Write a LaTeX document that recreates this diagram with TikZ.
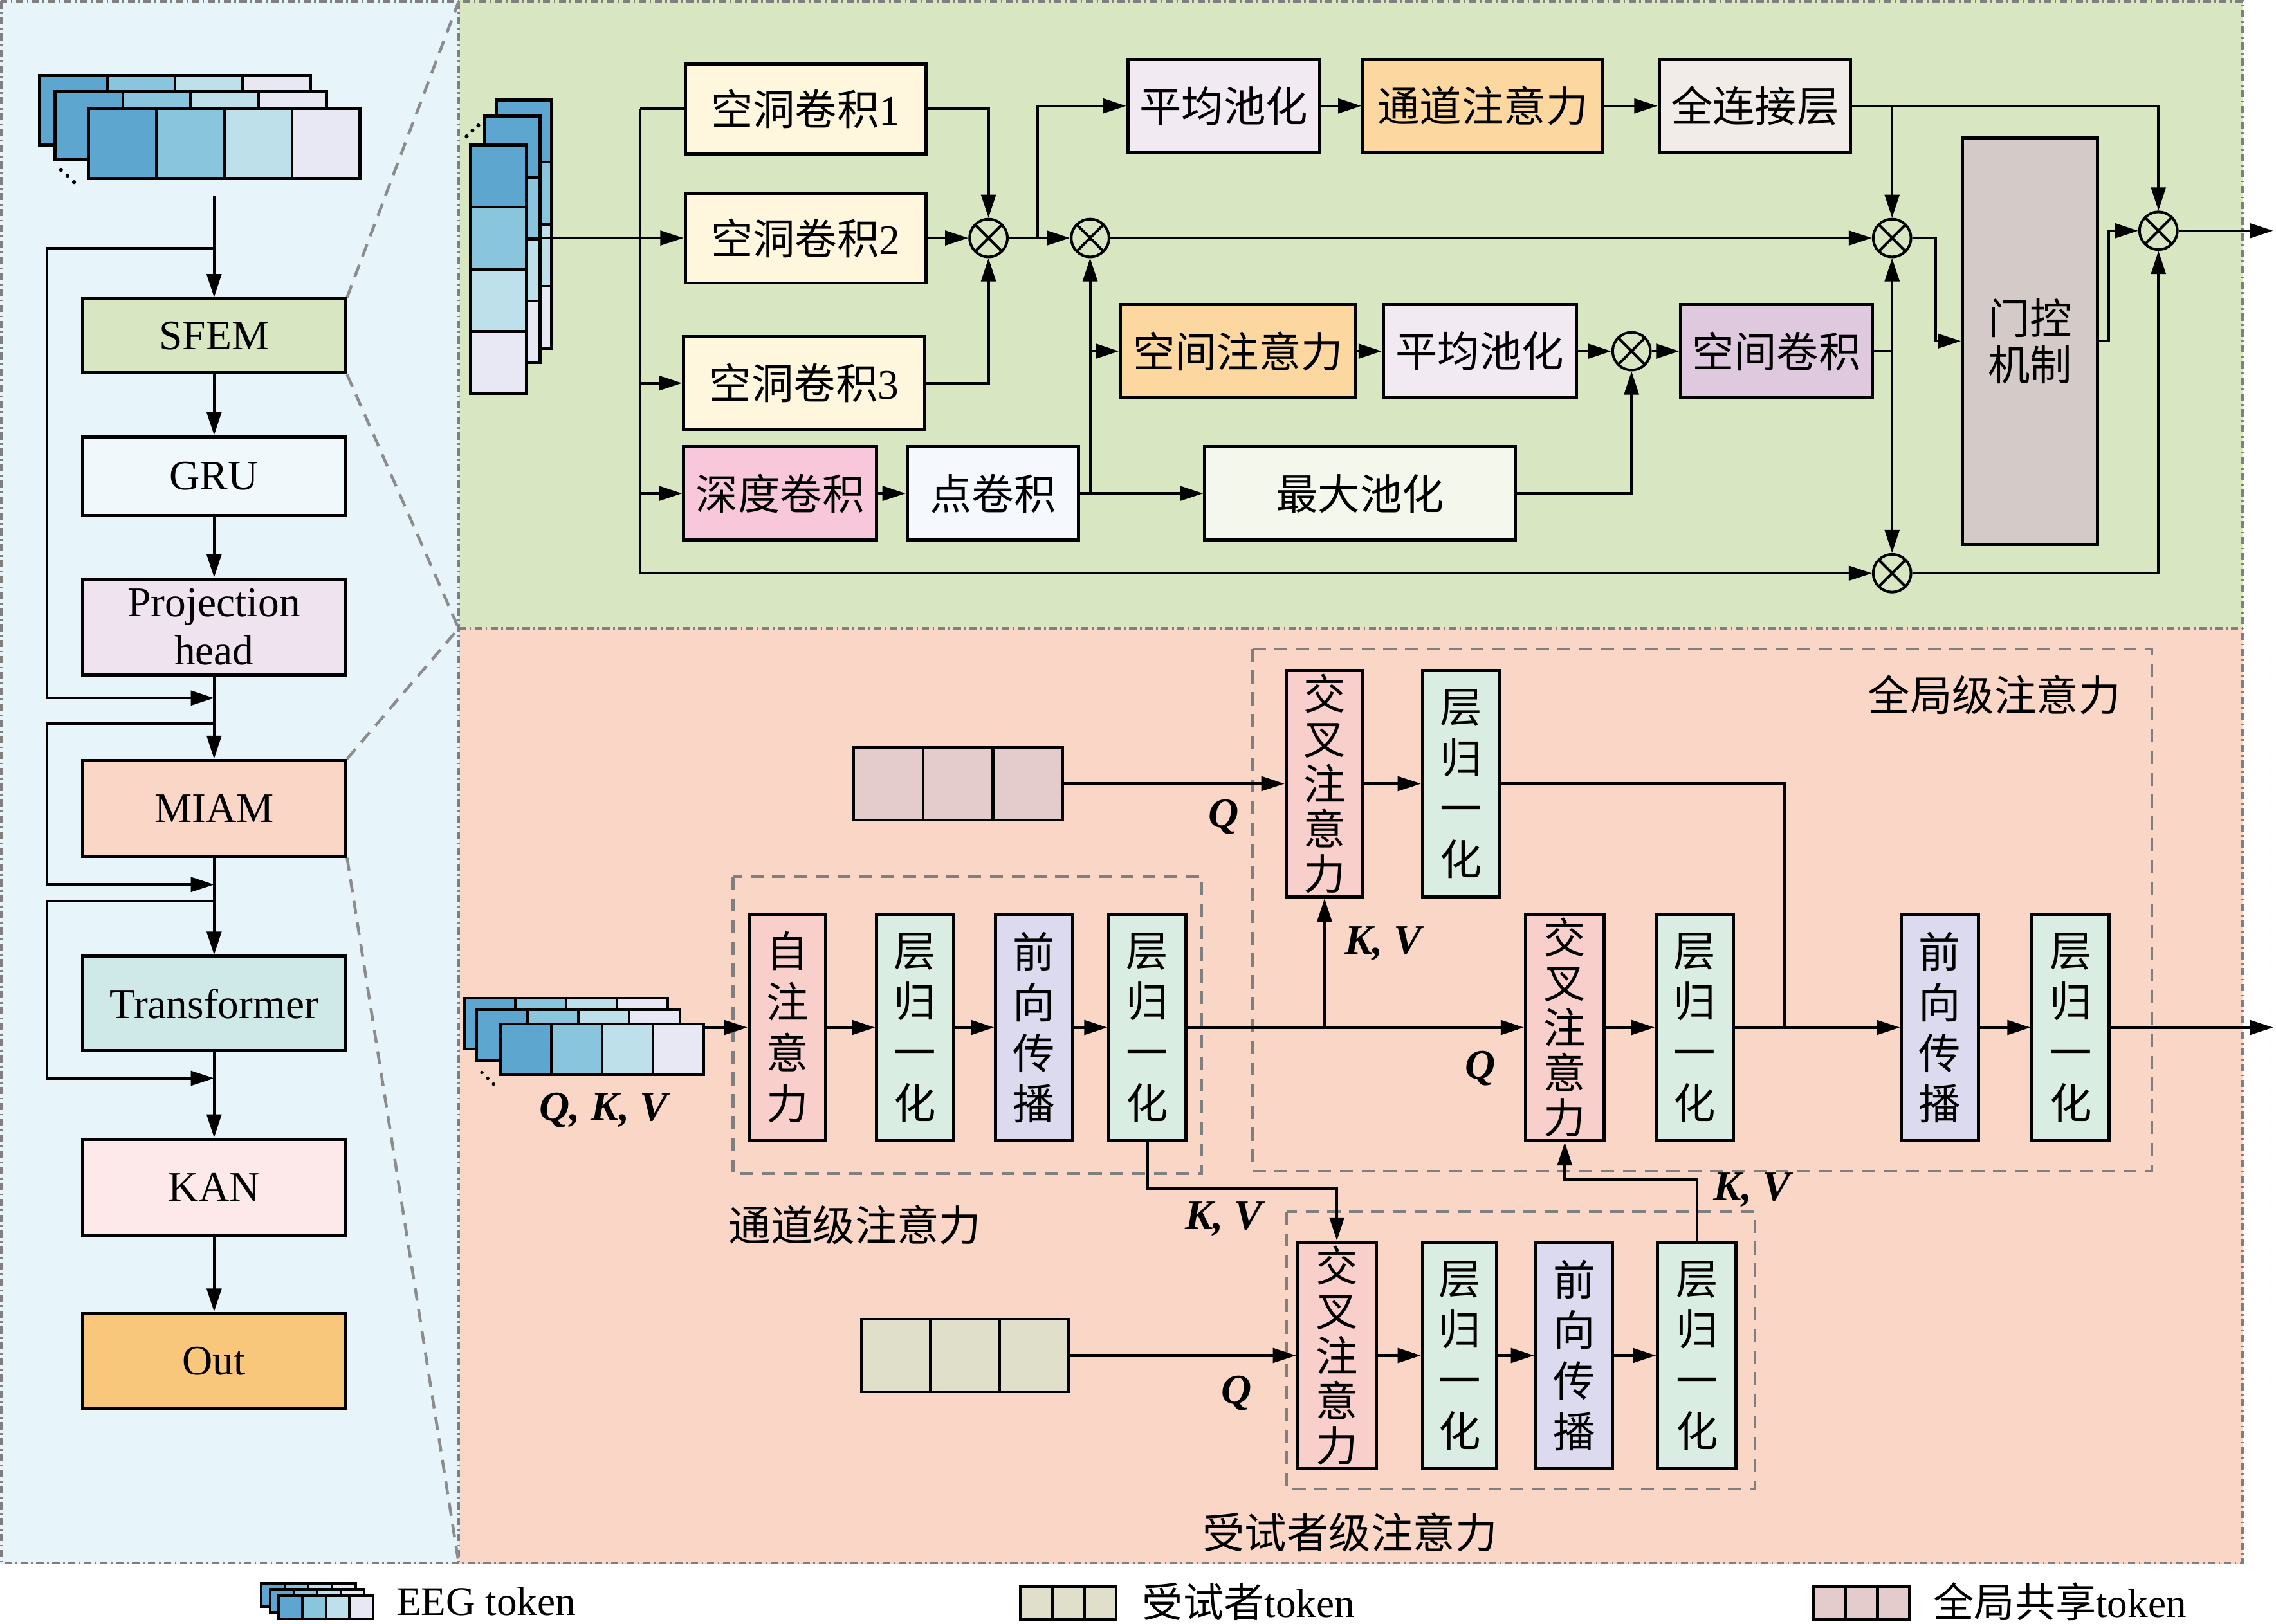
\documentclass[tikz,border=0pt]{standalone}
\usepackage{fontspec}
\setmainfont{Liberation Serif}
\newfontfamily\cjk{Noto Sans CJK SC}
\usetikzlibrary{arrows.meta, math}
\definecolor{bgL}{HTML}{E7F4F9}
\definecolor{bgG}{HTML}{D8E6C1}
\definecolor{bgS}{HTML}{F9D6C6}
\definecolor{frameG}{HTML}{7F7F7F}
\definecolor{tokA}{HTML}{5CA6CF}
\definecolor{tokB}{HTML}{8AC5DE}
\definecolor{tokC}{HTML}{BEE0EB}
\definecolor{tokD}{HTML}{E7E8F3}
\definecolor{cGru}{HTML}{F0F8FB}
\definecolor{cProj}{HTML}{EEE3EF}
\definecolor{cTrans}{HTML}{CFE8E8}
\definecolor{cKan}{HTML}{FDE9EA}
\definecolor{cOut}{HTML}{F9C77C}
\definecolor{cDil}{HTML}{FEF6DD}
\definecolor{cDw}{HTML}{F9C7DA}
\definecolor{cPw}{HTML}{F5F8FC}
\definecolor{cAvg}{HTML}{F2EAF2}
\definecolor{cAtt}{HTML}{FCD8A0}
\definecolor{cFc}{HTML}{F1ECE8}
\definecolor{cSc}{HTML}{DFC9DF}
\definecolor{cMax}{HTML}{F4F8EC}
\definecolor{cGate}{HTML}{D4CBC8}
\definecolor{cCross}{HTML}{F9CFCB}
\definecolor{cNorm}{HTML}{D9EDE3}
\definecolor{cFf}{HTML}{DCDAEE}
\definecolor{cGtok}{HTML}{E4CCCC}
\definecolor{cStok}{HTML}{E0DFCA}
\newcommand{\fsz}{\fontsize{14.5}{16.5}\selectfont}
\newcommand{\vsz}{\fontsize{14.5}{17.5}\selectfont}
\newcommand{\vszc}{\fontsize{14.5}{15.5}\selectfont}
% token stacks: [line width] x, y (top left), cell width, cell height
\newcommand{\tokrow}[5][1pt]{%
  \foreach \c [count=\i from 0] in {tokA,tokB,tokC,tokD}
    \draw[line width=#1, fill=\c] ({#2+\i*#4},#3) rectangle ++(#4,#5);}
\newcommand{\tokcol}[5][1pt]{%
  \foreach \c [count=\i from 0] in {tokA,tokB,tokC,tokD}
    \draw[line width=#1, fill=\c] (#2,{#3+\i*#5}) rectangle ++(#4,#5);}

\begin{document}
\begin{tikzpicture}[x=0.5pt, y=-0.5pt,
  span/.style args={#1/#2/#3/#4}{at={({(#1+#3)/2},{(#2+#4)/2})},
    minimum width={(#3-#1)*0.5pt}, minimum height={(#4-#2)*0.5pt}},
  box/.style={draw, line width=1.1pt, inner sep=0pt, font=\cjk\fsz},
  lbox/.style={box, font=\fsz},
  vbox/.style={box, align=center, font=\cjk\vsz},
  cbox/.style={box, align=center, font=\cjk\vszc},
  arr/.style={-{Triangle[length=8pt,width=5pt]}, line width=0.9pt},
  ln/.style={line width=0.9pt},
  mul/.style={circle, draw, line width=0.9pt, minimum size=13pt, inner sep=0pt,
    path picture={\draw[line width=0.9pt] (path picture bounding box.south west) -- (path picture bounding box.north east)
      (path picture bounding box.north west) -- (path picture bounding box.south east);}},
  panel/.style={draw=frameG, line width=1pt, dash pattern=on 2.5pt off 1.2pt on 0.6pt off 1.2pt},
  zoomln/.style={draw=frameG!90, line width=1pt, dash pattern=on 4.5pt off 3pt},
  grp/.style={draw=frameG, line width=0.9pt, dash pattern=on 4.5pt off 3pt},
  lab/.style={font=\fsz\bfseries\itshape},
  captxt/.style={font=\cjk\fsz}]

\useasboundingbox (0,0) rectangle (1568,1119);

\tikzmath{
\xl = 147.5; % left column axis
\xr = 32.5;  % skip lines
\xb = 441;   % input bus
\ym = 164;   % main row, feature module
\yt = 708;   % main row, attention module
\yb = 934;   % subject row
}

%panels:
\fill[bgL] (0,0) rectangle (316,1078);
\fill[bgG] (316,0) rectangle (1545,433);
\fill[bgS] (316,433) rectangle (1545,1078);
\draw[panel] (1,1) rectangle (1545,1077);
\draw[panel] (316,1) -- (316,1077);
\draw[panel] (316,433) -- (1545,433);

%left column:
\tokrow{27}{52}{46.75}{48}
\tokrow{38}{63}{46.75}{47}
\tokrow{61}{75}{46.75}{48}
\foreach \p in {(42,117),(46.5,121),(51,125.5)} \fill \p circle[radius=1.4];

\node[lbox, fill=bgG, span=57/206/238/257] (sfem) {SFEM};
\node[lbox, fill=cGru, span=57/301/238/355] (gru) {GRU};
\node[lbox, fill=cProj, span=57/399/238/465, align=center] (proj) {Projection\\head};
\node[lbox, fill=bgS, span=57/524/238/590] (miam) {MIAM};
\node[lbox, fill=cTrans, span=57/659/238/724] (trans) {Transformer};
\node[lbox, fill=cKan, span=57/785/238/851] (kan) {KAN};
\node[lbox, fill=cOut, span=57/905/238/971] (out) {Out};

\coordinate (ein) at (\xl,135);
\draw[arr] (ein) -- (sfem);
\draw[arr] (sfem) -- (gru);
\draw[arr] (gru) -- (proj);
\draw[arr] (proj) -- (miam);
\draw[arr] (miam) -- (trans);
\draw[arr] (trans) -- (kan);
\draw[arr] (kan) -- (out);

%skip connections
\coordinate (s1) at (\xl,171);   \coordinate (e1) at (\xl,481);
\coordinate (s2) at (\xl,498.5); \coordinate (e2) at (\xl,609.5);
\coordinate (s3) at (\xl,621);   \coordinate (e3) at (\xl,743);
\draw[arr] (s1) -- (\xr,171) |- (e1);
\draw[arr] (s2) -- (\xr,498.5) |- (e2);
\draw[arr] (s3) -- (\xr,621) |- (e3);

%zoom lines
\draw[zoomln] (sfem.north east) -- (316,1);
\draw[zoomln] (sfem.south east) -- (316,433);
\draw[zoomln] (miam.north east) -- (316,433);
\draw[zoomln] (miam.south east) -- (316,1077);

%feature extraction module:
\tokcol{342}{69}{38}{42.75}
\tokcol{334}{80}{38}{42.5}
\tokcol{324}{100}{38.5}{42.75}
\foreach \p in {(321.5,94),(325.5,90),(329.5,86.5)} \fill \p circle[radius=1.4];

\node[box, fill=cDil, span=472/44/638/106] (dc1) {空洞卷积{\rmfamily 1}};
\node[box, fill=cDil, span=472/133/638/195] (dc2) {空洞卷积{\rmfamily 2}};
\node[box, fill=cDil, span=471/232/637/296] (dc3) {空洞卷积{\rmfamily 3}};
\node[box, fill=cDw, span=471/308/604/372] (dw) {深度卷积};
\node[box, fill=cPw, span=625/308/743/372] (pw) {点卷积};
\node[box, fill=cAvg, span=777/41/909/105] (avg1) {平均池化};
\node[box, fill=cAtt, span=939/41/1104/105] (ca) {通道注意力};
\node[box, fill=cFc, span=1143/41/1275/105] (fc) {全连接层};
\node[box, fill=cAtt, span=772/210/934/274] (sa) {空间注意力};
\node[box, fill=cAvg, span=953/210/1086/274] (avg2) {平均池化};
\node[box, fill=cSc, span=1158/210/1290/274] (sc) {空间卷积};
\node[box, fill=cMax, span=830/308/1044/372] (mp) {最大池化};
\node[box, fill=cGate, span=1352/95/1445/375, align=center,
  font=\cjk\fontsize{14.5}{16}\selectfont] (gate) {门控\\机制};

\node[mul] (mul1) at (681,\ym) {};
\node[mul] (mul2) at (751,\ym) {};
\node[mul] (mul3) at (1303.5,\ym) {};
\node[mul] (mul4) at (1303.5,395) {};
\node[mul] (mul5) at (1124,242) {};
\node[mul] (mulF) at (1487,159) {};

\coordinate (vin) at (362,\ym);
\coordinate (busT) at (\xb,75);
\coordinate (busB) at (\xb,395);
\draw[arr] (vin) -- (dc2);
\draw[ln] (dc1.west) -- (busT);
\draw[arr] (busT) -- (busB) -- (mul4);
\draw[arr] (busT |- dc3.west) -- (dc3.west);
\draw[arr] (busT |- dw.west) -- (dw.west);

\draw[arr] (dc1.east) -| (mul1.north);
\draw[arr] (dc2) -- (mul1);
\draw[arr] (dc3.east) -| (mul1.south);
\draw[arr] (mul1) -- (mul2);
\draw[arr] (715,\ym) |- (avg1.west);
\draw[arr] (avg1) -- (ca);
\draw[arr] (ca) -- (fc);
\draw[arr] (mul2) -- (mul3);

\draw[arr] (dw) -- (pw);
\draw[arr] (pw) -- (mp);
\coordinate (br2) at (751,340);
\draw[arr] (br2) -- (mul2.south);
\draw[arr] (br2 |- sa.west) -- (sa.west);
\draw[arr] (sa) -- (avg2);
\draw[arr] (avg2) -- (mul5);
\draw[arr] (mul5) -- (sc);
\draw[arr] (mp.east) -| (mul5.south);

\coordinate (br3) at (1303.5,242);
\draw[ln] (sc.east) -- (br3);
\draw[arr] (br3) -- (mul3.south);
\draw[arr] (br3) -- (mul4.north);
\draw[arr] (fc.east) -| (mulF.north);
\draw[arr] (fc.east -| mul3.north) -- (mul3.north);
\draw[arr] (mul3.east) -- ++(16,0) |- (gate.west);
\draw[arr] (gate.east) -- ++(6.5,0) |- (mulF.west);
\draw[arr] (mul4.east) -| (mulF.south);
\coordinate (outG) at (1566,159);
\draw[arr] (mulF) -- (outG);

%attention module:
\draw[grp] (505,604) rectangle (828,809);
\draw[grp] (863,447) rectangle (1482.5,807);
\draw[grp] (886.5,835) rectangle (1209,1026);

\tokrow[0.9pt]{320}{688}{35}{35}
\tokrow[0.9pt]{328.5}{696}{35}{35}
\tokrow[0.9pt]{345}{705.5}{35}{35}
\foreach \p in {(332,739),(336,743),(340,747)} \fill \p circle[radius=1.2];
\foreach \i in {0,1,2} \draw[line width=1pt, fill=cGtok] ({588+48*\i},515) rectangle ++(48,50);
\foreach \i in {0,1,2} \draw[line width=1pt, fill=cStok] ({593.5+47.5*\i},909) rectangle ++(47.5,50);

\node[vbox, fill=cCross, span=516/630/569/786] (selfa) {自\\注\\意\\力};
\node[vbox, fill=cNorm, span=604/630/657/786] (ln2) {层\\归\\一\\化};
\node[vbox, fill=cFf, span=686/630/739/786] (ff1) {前\\向\\传\\播};
\node[vbox, fill=cNorm, span=764/630/817/786] (ln3) {层\\归\\一\\化};
\node[cbox, fill=cCross, span=886/462/939/618] (ca1) {交\\叉\\注\\意\\力};
\node[vbox, fill=cNorm, span=980/462/1033/618] (ln1) {层\\归\\一\\化};
\node[cbox, fill=cCross, span=1051/630/1105/786] (ca2) {交\\叉\\注\\意\\力};
\node[vbox, fill=cNorm, span=1141/630/1194/786] (ln4) {层\\归\\一\\化};
\node[vbox, fill=cFf, span=1310/630/1363/786] (ff2) {前\\向\\传\\播};
\node[vbox, fill=cNorm, span=1400/630/1453/786] (ln5) {层\\归\\一\\化};
\node[cbox, fill=cCross, span=894/856/948/1012] (ca3) {交\\叉\\注\\意\\力};
\node[vbox, fill=cNorm, span=980/856/1031/1012] (ln6) {层\\归\\一\\化};
\node[vbox, fill=cFf, span=1058/856/1111/1012] (ff3) {前\\向\\传\\播};
\node[vbox, fill=cNorm, span=1142/856/1196/1012] (ln7) {层\\归\\一\\化};

\coordinate (tin) at (485,\yt);
\coordinate (gq) at (732,540);
\coordinate (sq) at (736,\yb);
\coordinate (outS) at (1566,\yt);
\draw[arr] (tin) -- (selfa.west);
\draw[arr] (selfa) -- (ln2);
\draw[arr] (ln2) -- (ff1);
\draw[arr] (ff1) -- (ln3);
\draw[arr] (ln3.east) -- (ca2.west);
\draw[arr] (ca1.south |- ln3.east) -- (ca1.south);
\draw[arr] (gq) -- (ca1.west);
\draw[arr] (ca1) -- (ln1);
\draw[ln] (ln1.east) -| (1229.5,\yt);
\draw[arr] (ca2) -- (ln4);
\draw[arr] (ln4) -- (ff2);
\draw[arr] (ff2) -- (ln5);
\draw[arr] (ln5.east) -- (outS);
\draw[arr] (ln3.south) -- ++(0,32) -| (ca3.north);
\draw[arr] (sq) -- (ca3.west);
\draw[arr] (ca3) -- (ln6);
\draw[arr] (ln6) -- (ff3);
\draw[arr] (ff3) -- (ln7);
\draw[arr] (ln7.north) -- ++(0,-42) -| (ca2.south);

\node[lab] (q1) at (843,563) {Q};
\node[lab] (q2) at (1020,736) {Q};
\node[lab] (q3) at (852,960) {Q};
\node[lab] (kv1) at (953,650) {K, V};
\node[lab] (kv2) at (843,840) {K, V};
\node[lab] (kv3) at (1207,820) {K, V};
\node[lab] (qkv) at (416,765) {Q, K, V};
\node[captxt] (capC) at (589,844) {通道级注意力};
\node[captxt] (capG) at (1374,479) {全局级注意力};
\node[captxt] (capS) at (930,1056) {受试者级注意力};

%legend
\tokrow[0.8pt]{180}{1091}{16.25}{16}
\tokrow[0.8pt]{186}{1095}{16.25}{16}
\tokrow[0.8pt]{192}{1099.5}{16.25}{16}
\foreach \i in {0,1,2} \draw[line width=1pt, fill=cStok] ({703+22*\i},1093) rectangle ++(22,23);
\foreach \i in {0,1,2} \draw[line width=1pt, fill=cGtok] ({1249+22.2*\i},1093) rectangle ++(22.2,23);
\node[anchor=west, font=\fontsize{14}{16}\selectfont] (legE) at (266,1103.5) {EEG token};
\node[anchor=west, captxt, font=\cjk\fontsize{14}{16}\selectfont] (legS) at (780,1103.5) {受试者{\rmfamily token}};
\node[anchor=west, captxt, font=\cjk\fontsize{14}{16}\selectfont] (legG) at (1325,1103.5) {全局共享{\rmfamily token}};

\end{tikzpicture}
\end{document}
